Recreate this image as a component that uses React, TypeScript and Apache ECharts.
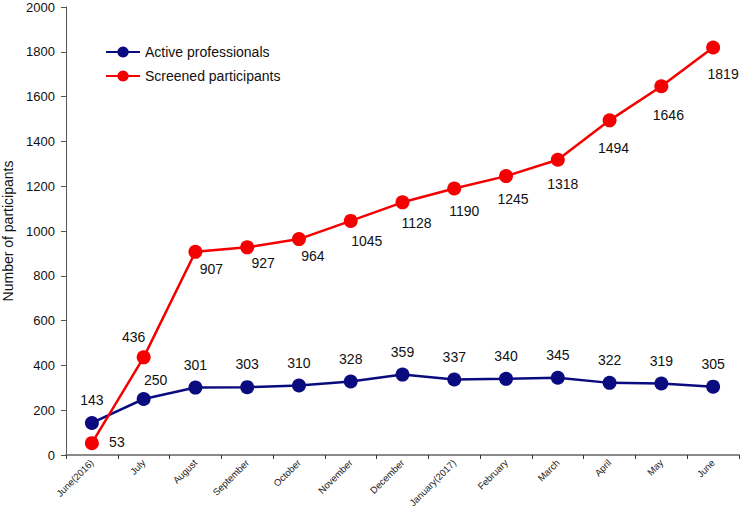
import React, { useEffect, useRef } from "react";
import * as echarts from "echarts";

const categories = [
  "June(2016)", "July", "August", "September", "October", "November", "December",
  "January(2017)", "February", "March", "April", "May", "June",
];
const activeProfessionals = [143, 250, 301, 303, 310, 328, 359, 337, 340, 345, 322, 319, 305];
const screenedParticipants = [53, 436, 907, 927, 964, 1045, 1128, 1190, 1245, 1318, 1494, 1646, 1819];
const yTicks = { min: 0, max: 2000, interval: 200 };

// label offsets (styling only)
const blueOffsets = [
  [0, -23], [12, -19], [0, -23], [0, -23], [0, -23], [0, -23], [0, -23],
  [0, -23], [0, -23], [0, -23], [0, -23], [0, -23], [0, -23],
];
const redOffsets = [
  [25, -1], [-10, -20], [16, 17], [16, 16], [14, 17], [16, 20], [14, 21],
  [10, 23], [7, 23], [5, 24], [4, 28], [7, 29], [10, 26],
];

export default function App() {
  const ref = useRef<HTMLDivElement>(null);
  useEffect(() => {
    const chart = echarts.init(ref.current!, null, { renderer: "svg" });
    const font = "'Liberation Sans', Arial, Helvetica, sans-serif";
    const labelBase = { show: true, position: "inside", fontSize: 14, color: "#111", fontFamily: font };
    chart.setOption({
      animation: false,
      textStyle: { fontFamily: font },
      grid: { left: 66, right: 1, top: 7, bottom: 53, containLabel: false, outerBoundsMode: "none" },
      legend: {
        left: 100,
        top: 40,
        orient: "vertical",
        itemWidth: 34,
        itemHeight: 14,
        itemGap: 10,
        textStyle: { fontSize: 14, color: "#111", fontFamily: font },
        data: ["Active professionals", "Screened participants"],
      },
      xAxis: {
        type: "category",
        data: categories,
        boundaryGap: true,
        axisLine: { lineStyle: { color: "#8a8a8a", width: 2 } },
        axisTick: { show: true, alignWithLabel: false, length: 4, lineStyle: { color: "#333", width: 1 } },
        axisLabel: { rotate: 45, fontSize: 9.5, color: "#222", margin: 6, interval: 0, fontFamily: font },
      },
      yAxis: {
        type: "value",
        min: yTicks.min,
        max: yTicks.max,
        interval: yTicks.interval,
        name: "Number of participants",
        nameLocation: "middle",
        nameGap: 47,
        nameRotate: 90,
        nameTextStyle: { fontSize: 14, color: "#111", fontFamily: font },
        splitLine: { show: false },
        axisLine: { show: true, lineStyle: { color: "#555", width: 1 } },
        axisTick: { show: true, length: 5, lineStyle: { color: "#555" } },
        axisLabel: { fontSize: 13, color: "#111", margin: 11, fontFamily: font, formatter: (v: number) => String(v) },
      },
      series: [
        {
          name: "Active professionals",
          type: "line",
          data: activeProfessionals.map((v, i) => ({
            value: v,
            label: { ...labelBase, offset: blueOffsets[i] },
          })),
          symbol: "circle",
          symbolSize: 14,
          lineStyle: { color: "#0b0b80", width: 2.5 },
          itemStyle: { color: "#0b0b80" },
          z: 3,
        },
        {
          name: "Screened participants",
          type: "line",
          data: screenedParticipants.map((v, i) => ({
            value: v,
            label: { ...labelBase, offset: redOffsets[i] },
          })),
          symbol: "circle",
          symbolSize: 14,
          lineStyle: { color: "#f50000", width: 2.5 },
          itemStyle: { color: "#f50000" },
          z: 4,
        },
      ],
    });
    return () => chart.dispose();
  }, []);
  return <div ref={ref} style={{ width: 740, height: 508, position: "absolute", left: 0, top: 0 }} />;
}
